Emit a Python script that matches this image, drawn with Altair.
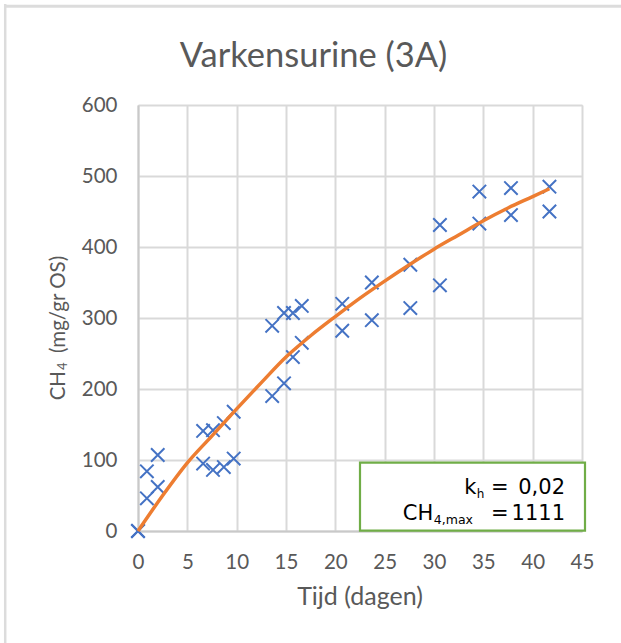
import altair as alt
import pandas as pd

# Measurements: digestion time (days) and cumulative methane yield, two replicates
dag = [0, 0.9, 2.0, 6.6, 7.6, 8.7, 9.7, 13.6, 14.8, 15.7, 16.6, 20.7, 23.7, 27.6, 30.6, 34.6, 37.8, 41.7]
ch4_a = [0, 46, 62, 95, 86, 90, 102, 190, 208, 245, 265, 282, 297, 314, 346, 433, 445, 450]
ch4_b = [0, 84, 107, 141, 142, 152, 168, 289, 307, 307, 317, 320, 350, 375, 431, 478, 483, 485]

# Fitted first-order curve
fit_dag = [0, 2.5, 5, 7.5, 10, 12.5, 15, 17.5, 20, 22.5, 25, 27.5, 30, 32.5, 35, 37.5, 40, 41.7]
fit_ch4 = [0, 50, 96, 134, 172, 209, 245, 275, 302, 328, 352, 375, 397, 417, 437, 455, 471, 482]

x_ticks = [0, 5, 10, 15, 20, 25, 30, 35, 40, 45]
y_ticks = [0, 100, 200, 300, 400, 500, 600]

punten = pd.DataFrame({"dag": dag + dag, "ch4": ch4_a + ch4_b})
fit = pd.DataFrame({"dag": fit_dag, "ch4": fit_ch4})
one = alt.Data(values=[{}])

W, H = 444, 426
GREY = "#595959"
FONT = "Lato"

axis_style = dict(
    title=None, ticks=False, labelPadding=21, labelFlush=False,
    labelFont=FONT, labelFontSize=20.5, labelColor=GREY,
    gridColor="#D9D9D9", gridWidth=2,
    domainColor="#C9C9C9", domainWidth=2,
)

x_enc = alt.X(
    "dag:Q",
    scale=alt.Scale(domain=[0, 45], nice=False, zero=False),
    axis=alt.Axis(values=x_ticks, **axis_style),
)
y_enc = alt.Y(
    "ch4:Q",
    scale=alt.Scale(domain=[0, 600], nice=False),
    axis=alt.Axis(values=y_ticks, **axis_style),
)

X_SHAPE = "M-1,-1L1,1M-1,1L1,-1"

markers = alt.Chart(punten).mark_point(
    shape=X_SHAPE, filled=False, size=180, strokeWidth=2, color="#4472C4", opacity=1
).encode(x=x_enc, y=y_enc)

curve = alt.Chart(fit).mark_line(
    color="#ED7D31", strokeWidth=3.5, interpolate="monotone"
).encode(x="dag:Q", y="ch4:Q")


def txt(text, x, y, size, align="left", angle=0, font=FONT, color=GREY):
    return alt.Chart(one).mark_text(
        text=text, font=font, fontSize=size, align=align,
        baseline="alphabetic", angle=angle, color=color
    ).encode(x=alt.value(x), y=alt.value(y))


# Chart title and axis titles
title = txt("Varkensurine (3A)", 175.5, -38, 34.5, align="center")
x_title = txt("Tijd (dagen)", 222, 500, 25, align="center")
y_title = [
    txt("CH", -73, 266, 20.5, align="right", angle=270),
    txt("4", -71, 265, 13, align="left", angle=270),
    txt("(mg/gr OS)", -73, 248, 20.5, align="left", angle=270),
]

# Parameter box
box = alt.Chart(one).mark_rect(
    fill="white", stroke="#70AD47", strokeWidth=2.2
).encode(x=alt.value(222), x2=alt.value(447), y=alt.value(357.7), y2=alt.value(425.7))

BOXFONT = "DejaVu Sans"
INK = "#000000"
box_text = [
    txt("k", 338.5, 389, 21, align="right", font=BOXFONT, color=INK),
    txt("h", 338.8, 392.5, 12, align="left", font=BOXFONT, color=INK),
    txt("=", 361.7, 389, 21, align="center", font=BOXFONT, color=INK),
    txt("0,02", 427, 389, 21, align="right", font=BOXFONT, color=INK),
    txt("CH", 295.3, 415, 21, align="right", font=BOXFONT, color=INK),
    txt("4,max", 295.8, 418.5, 12.5, align="left", font=BOXFONT, color=INK),
    txt("=", 361.7, 415, 21, align="center", font=BOXFONT, color=INK),
    txt("1111", 427, 415, 21, align="right", font=BOXFONT, color=INK),
]

# Outer frame lines (top and left)
frame_top = alt.Chart(one).mark_rule(color="#DCDCDC", strokeWidth=3).encode(
    x=alt.value(-134), x2=alt.value(490), y=alt.value(-98.8))
frame_left = alt.Chart(one).mark_rule(color="#DCDCDC", strokeWidth=2.5).encode(
    x=alt.value(-132.8), y=alt.value(-101), y2=alt.value(545))

chart = alt.layer(
    frame_top, frame_left, markers, curve, box, *box_text,
    title, x_title, *y_title
).properties(
    width=W, height=H,
    autosize=alt.AutoSizeParams(type="none"),
    padding={"left": 138, "top": 105, "right": 39, "bottom": 112},
).configure_view(stroke=None).configure(background="white")

chart.save("out.html", embed_options={"renderer": "svg", "actions": False})
